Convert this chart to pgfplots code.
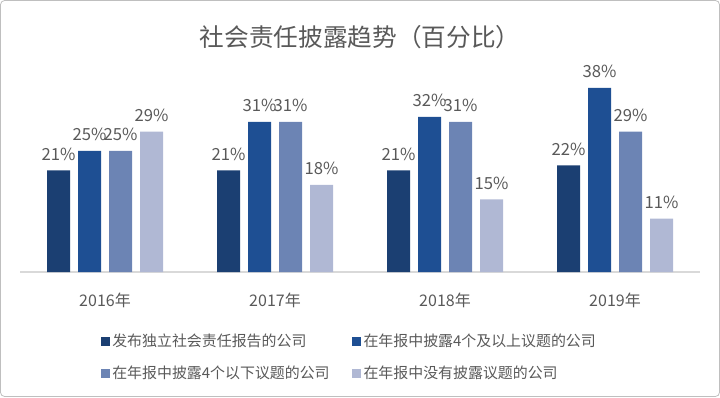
\documentclass[border=0pt]{standalone}
\usepackage{pgfplots}
\pgfplotsset{compat=1.18}
\usepackage{fontspec}
\setmainfont{Noto Sans CJK SC}
\definecolor{txt}{HTML}{595959}
\definecolor{c1}{HTML}{1B3F72}
\definecolor{c2}{HTML}{1E4F93}
\definecolor{c3}{HTML}{6C84B4}
\definecolor{c4}{HTML}{B0B8D4}
\definecolor{axl}{HTML}{D9D9D9}
\definecolor{frm}{HTML}{BFBFBF}
\begin{document}
\begin{tikzpicture}
\useasboundingbox (0pt,0pt) rectangle (540pt,297.75pt);
\draw[frm, line width=0.6pt, rounded corners=3pt] (0.4pt,0.4pt) rectangle (539.6pt,297.35pt);
\node[text=txt, font=\fontsize{18.5}{22}\selectfont] at (270pt,270pt) {社会责任披露趋势（百分比）};
\begin{axis}[
  at={(15pt,93.75pt)}, anchor=south west,
  scale only axis, width=510pt, height=163.5pt,
  xmin=-0.5, xmax=3.5, ymin=0, ymax=45,
  axis x line*=bottom, axis y line=none,
  x axis line style={axl, line width=0.8pt, -},
  xtick={0,1,2,3}, xticklabels={2016年,2017年,2018年,2019年},
  xtick style={draw=none},
  xticklabel style={text=txt, font=\fontsize{12}{14}\selectfont, yshift=-8pt},
  ytick=\empty,
  ybar=0pt, bar width=17.25pt,
  nodes near coords={\pgfmathprintnumber[assume math mode=true]{\pgfplotspointmeta}\%},
  every node near coord/.append style={text=txt, font=\fontsize{12.5}{14}\selectfont, yshift=4pt},
  legend columns=2,
  legend cell align=left,
  legend style={at={(0.485,-0.26)}, anchor=north, draw=none, fill=none,
    font=\fontsize{11.2}{13}\selectfont, text=txt,
    /tikz/every even column/.append style={column sep=15pt},
    row sep=9pt},
  legend image code/.code={\fill[#1] (0pt,-3.2pt) rectangle (6.4pt,3.2pt);},
  clip=false,
]
\addplot[fill=c1, draw=none, bar shift=-34.875pt] coordinates {(0,21) (1,21) (2,21) (3,22)};
\addplot[fill=c2, draw=none, bar shift=-11.625pt] coordinates {(0,25) (1,31) (2,32) (3,38)};
\addplot[fill=c3, draw=none, bar shift=11.625pt] coordinates {(0,25) (1,31) (2,31) (3,29)};
\addplot[fill=c4, draw=none, bar shift=34.875pt] coordinates {(0,29) (1,18) (2,15) (3,11)};
\legend{发布独立社会责任报告的公司,在年报中披露4个及以上议题的公司,在年报中披露4个以下议题的公司,在年报中没有披露议题的公司}
\end{axis}
\end{tikzpicture}
\end{document}
